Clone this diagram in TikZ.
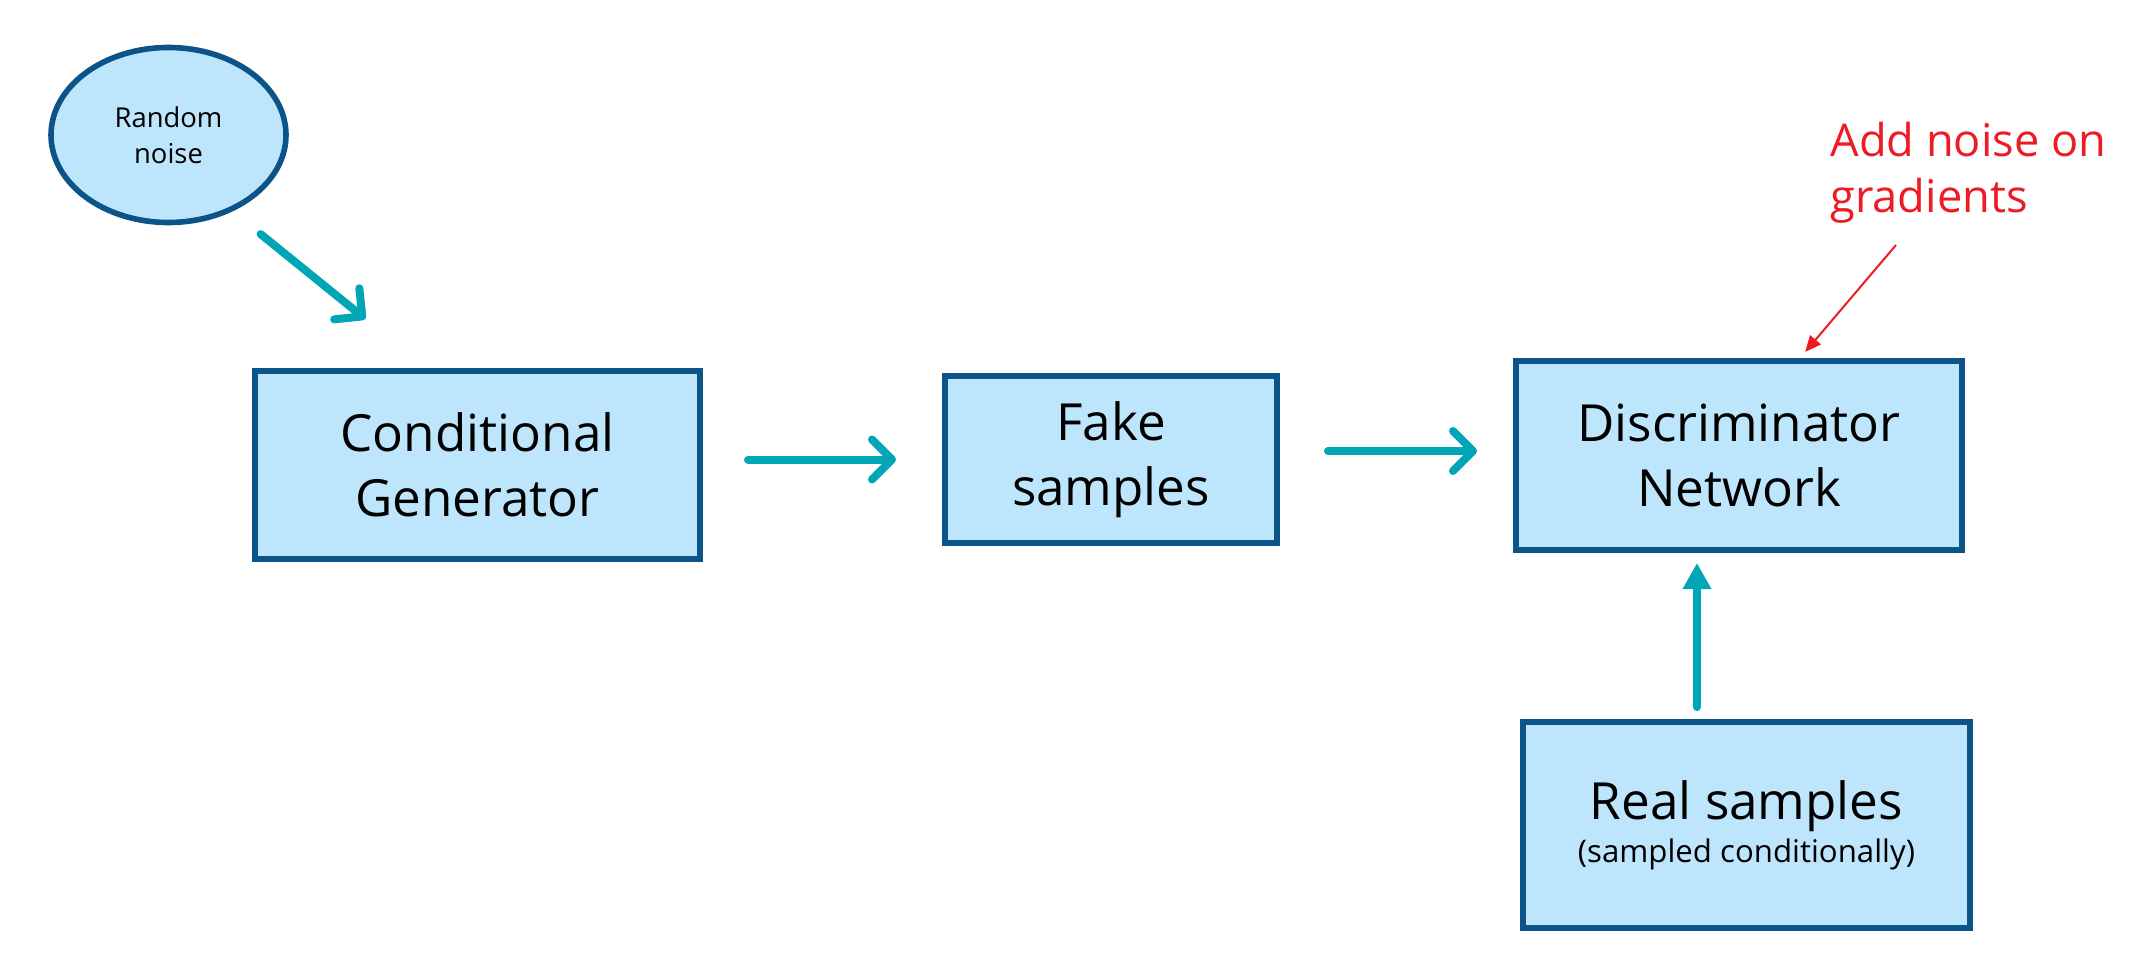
\documentclass[tikz,border=0pt]{standalone}
\usepackage{fontspec}
\setmainfont{Open Sans}
\usepackage{tikz}
\usetikzlibrary{positioning,arrows.meta,shapes.geometric}

\definecolor{boxblue}{RGB}{12,83,135}
\definecolor{boxfill}{RGB}{189,230,252}
\definecolor{flowteal}{RGB}{0,166,182}
\definecolor{notered}{RGB}{237,28,36}

\begin{document}
\begin{tikzpicture}[
  box/.style={draw=boxblue, fill=boxfill, line width=2.8pt, align=center, inner sep=2pt, font=\fontsize{25.6}{32.5}\selectfont},
  blob/.style={box, ellipse, inner sep=0pt, font=\fontsize{13.7}{18}\selectfont},
  note/.style={align=left, text=notered, inner sep=0pt, font=\fontsize{22.6}{28}\selectfont},
  flow/.style={draw=flowteal, line width=4pt, line cap=round, -{Straight Barb[length=10pt,width=20pt,round]}},
  feed/.style={draw=flowteal, line width=4pt, line cap=round, -{Triangle[length=13pt,width=13.5pt]}},
  hint/.style={draw=notered, line width=1pt, -{Triangle[length=8pt,width=7pt]}}]

\useasboundingbox (0,0) rectangle (1078pt,-487pt);

\node[blob, minimum width=117.5pt, minimum height=87.5pt] (noise) at (84.25pt,-67.5pt) {Random\\noise};
\node[box, minimum width=222.7pt, minimum height=94.2pt] (gen) at (238.75pt,-232.5pt) {Conditional\\Generator};
\node[box, minimum width=166.2pt, minimum height=83.7pt, right=119.5pt of gen, yshift=2.75pt] (fake) {Fake\\samples};
\node[box, minimum width=223.2pt, minimum height=94.7pt, right=116.5pt of fake, yshift=2pt] (disc) {Discriminator\\Network};
\node[box, minimum width=223.7pt, minimum height=103.2pt, below=83pt of disc, xshift=3.75pt] (real) {Real samples\\[-11pt]{\fontsize{15.6}{18}\selectfont(sampled conditionally)}};
\node[note, anchor=west] (addnoise) at (915pt,-86.5pt) {Add noise on\\gradients};
\coordinate (notetail) at ([xshift=78.5pt,yshift=56.5pt]disc.north);

\draw[flow, shorten <=18pt, shorten >=39pt] (noise.-50) -- ([xshift=-25.75pt]gen.north);
\draw[flow, shorten <=22.5pt, shorten >=23pt] (gen.east |- fake.west) -- (fake.west);
\draw[flow, shorten <=24pt, shorten >=18pt] ([yshift=4.25pt]fake.east) -- ([yshift=4.25pt]fake.east -| disc.west);
\draw[feed, shorten <=6pt, shorten >=5pt] ([xshift=-24.75pt]real.north) -- ([xshift=-24.75pt]real.north |- disc.south);
\draw[hint, shorten >=4pt] (notetail) -- ([xshift=30.5pt]disc.north);
\end{tikzpicture}
\end{document}
